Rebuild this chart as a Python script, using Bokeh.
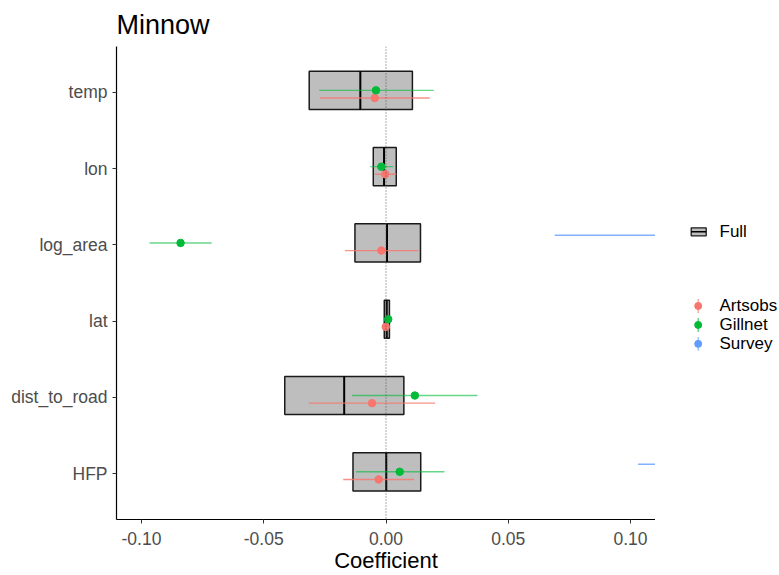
from bokeh.plotting import figure
from bokeh.models import ColumnDataSource, FactorRange, Range1d, FixedTicker, NumeralTickFormatter, Span
from bokeh.transform import dodge
from bokeh.layouts import row
from bokeh.core.properties import value
from bokeh.embed import file_html
from bokeh.resources import INLINE

# ---- data ----
variables = ["HFP", "dist_to_road", "lat", "log_area", "lon", "temp"]  # bottom -> top

full_low = [-0.0135, -0.0414, -0.0007, -0.0127, -0.0052, -0.0314]
full_mid = [0.0001, -0.0171, 0.0003, 0.0004, -0.0008, -0.0105]
full_high = [0.0142, 0.0073, 0.0014, 0.0141, 0.0042, 0.0108]

artsobs_est = [-0.0030, -0.0057, -0.0001, -0.0019, -0.0003, -0.0046]
artsobs_low = [-0.0175, -0.0316, -0.0008, -0.0168, -0.0046, -0.0270]
artsobs_high = [0.0115, 0.0201, 0.0006, 0.0132, 0.0042, 0.0179]

gillnet_est = [0.0056, 0.0118, 0.0009, -0.0840, -0.0019, -0.0041]
gillnet_low = [-0.0123, -0.0139, 0.0003, -0.0967, -0.0064, -0.0273]
gillnet_high = [0.0239, 0.0374, 0.0015, -0.0713, 0.0029, 0.0195]

survey_vars = ["HFP", "log_area"]
survey_est = [0.135, 0.130]
survey_low = [0.1031, 0.0690]
survey_high = [0.167, 0.190]

series_names = ["Artsobs", "Gillnet", "Survey"]
series_colors = ["#F8766D", "#00BA38", "#619CFF"]
x_ticks = [-0.10, -0.05, 0.00, 0.05, 0.10]
title_text = "Minnow"

FONT = "Liberation Sans"

p = figure(width=655, height=575, output_backend="svg", toolbar_location=None,
           y_range=FactorRange(factors=variables, range_padding=0.1, range_padding_units="absolute"),
           x_range=Range1d(-0.1102, 0.1102),
           min_border_left=116, min_border_right=0, min_border_top=46, min_border_bottom=55)
p.outline_line_color = None
p.xgrid.visible = False
p.ygrid.visible = False
p.background_fill_color = "white"

p.title.text = title_text
p.title.text_font = FONT
p.title.text_font_size = "27px"
p.title.text_font_style = "normal"
p.title.text_color = "black"
p.title.vertical_align = "top"
p.title.text_line_height = 0.8

yr = p.y_range
full_src = ColumnDataSource(dict(var=variables, lo=full_low, mid=full_mid, hi=full_high))
p.hbar(y=dodge("var", 0.025, range=yr), left="lo", right="hi", height=0.5, source=full_src,
       fill_color="#BEBEBE", line_color="#1a1a1a", line_width=1.5)
p.segment(x0="mid", x1="mid", y0=dodge("var", -0.225, range=yr), y1=dodge("var", 0.275, range=yr),
          source=full_src, line_color="black", line_width=2)

series = [
    (variables, artsobs_est, artsobs_low, artsobs_high, -0.075, 0.8),
    (variables, gillnet_est, gillnet_low, gillnet_high, 0.025, 0.6),
    (survey_vars, survey_est, survey_low, survey_high, 0.125, 0.8),
]
for (vs, est, lo, hi, off, alpha), color in zip(series, series_colors):
    src = ColumnDataSource(dict(var=vs, est=est, lo=lo, hi=hi))
    p.segment(x0="lo", x1="hi", y0=dodge("var", off, range=yr), y1=dodge("var", off, range=yr),
              source=src, line_color=color, line_alpha=alpha, line_width=1.4)
    p.scatter(x="est", y=dodge("var", off, range=yr), source=src, size=7.5,
              fill_color=color, line_color=color)

p.add_layout(Span(location=0, dimension="height", line_color="#555555", line_width=1, line_dash="1 2"))

for ax in (p.xaxis[0], p.yaxis[0]):
    ax.axis_line_color = "black"
    ax.axis_line_width = 1.2
    ax.major_tick_line_color = "#333333"
    ax.major_tick_out = 4
    ax.major_tick_in = 0
    ax.minor_tick_line_color = None
    ax.major_label_text_font = FONT
    ax.major_label_text_font_size = "17.5px"
    ax.major_label_text_color = "#4D4D4D"

p.xaxis.ticker = FixedTicker(ticks=x_ticks)
p.xaxis.formatter = NumeralTickFormatter(format="0.00")
p.xaxis.major_label_standoff = 8
p.xaxis.axis_label = "Coefficient"
p.xaxis.axis_label_text_font = FONT
p.xaxis.axis_label_text_font_size = "22px"
p.xaxis.axis_label_text_font_style = "normal"
p.xaxis.axis_label_text_color = "black"
p.xaxis.axis_label_standoff = 0
p.yaxis.major_label_standoff = 5

# ---- legend panel (its frame is aligned with the main frame: y in page pixels) ----
lg = figure(width=124, height=575, output_backend="svg", toolbar_location=None,
            x_range=Range1d(0, 124), y_range=Range1d(520, 46), min_border=0)
lg.axis.visible = False
lg.xgrid.visible = False
lg.ygrid.visible = False
lg.outline_line_color = None

lg.rect(x=[43.2], y=[231.7], width=15, height=8, fill_color="#BEBEBE", line_color="#1a1a1a", line_width=1.3)
lg.segment(x0=[35.7], x1=[50.7], y0=[231.7], y1=[231.7], line_color="black", line_width=1.5)
lg.text(x=[64], y=[231.5], text=["Full"], text_font=value(FONT), text_font_size="17px",
        text_baseline="middle", text_align="left", text_color="black")

key_y = [306, 325, 344]
for name, color, ky in zip(series_names, series_colors, key_y):
    lg.segment(x0=[42.7], x1=[42.7], y0=[ky - 7], y1=[ky + 7], line_color=color, line_alpha=0.6, line_width=1.5)
    lg.scatter(x=[42.7], y=[ky], size=7, fill_color=color, line_color=color)
    lg.text(x=[64], y=[ky], text=[name], text_font=value(FONT), text_font_size="17px",
            text_baseline="middle", text_align="left", text_color="black")

layout = row(p, lg, spacing=0)
open("out.html", "w").write(file_html(layout, INLINE))
